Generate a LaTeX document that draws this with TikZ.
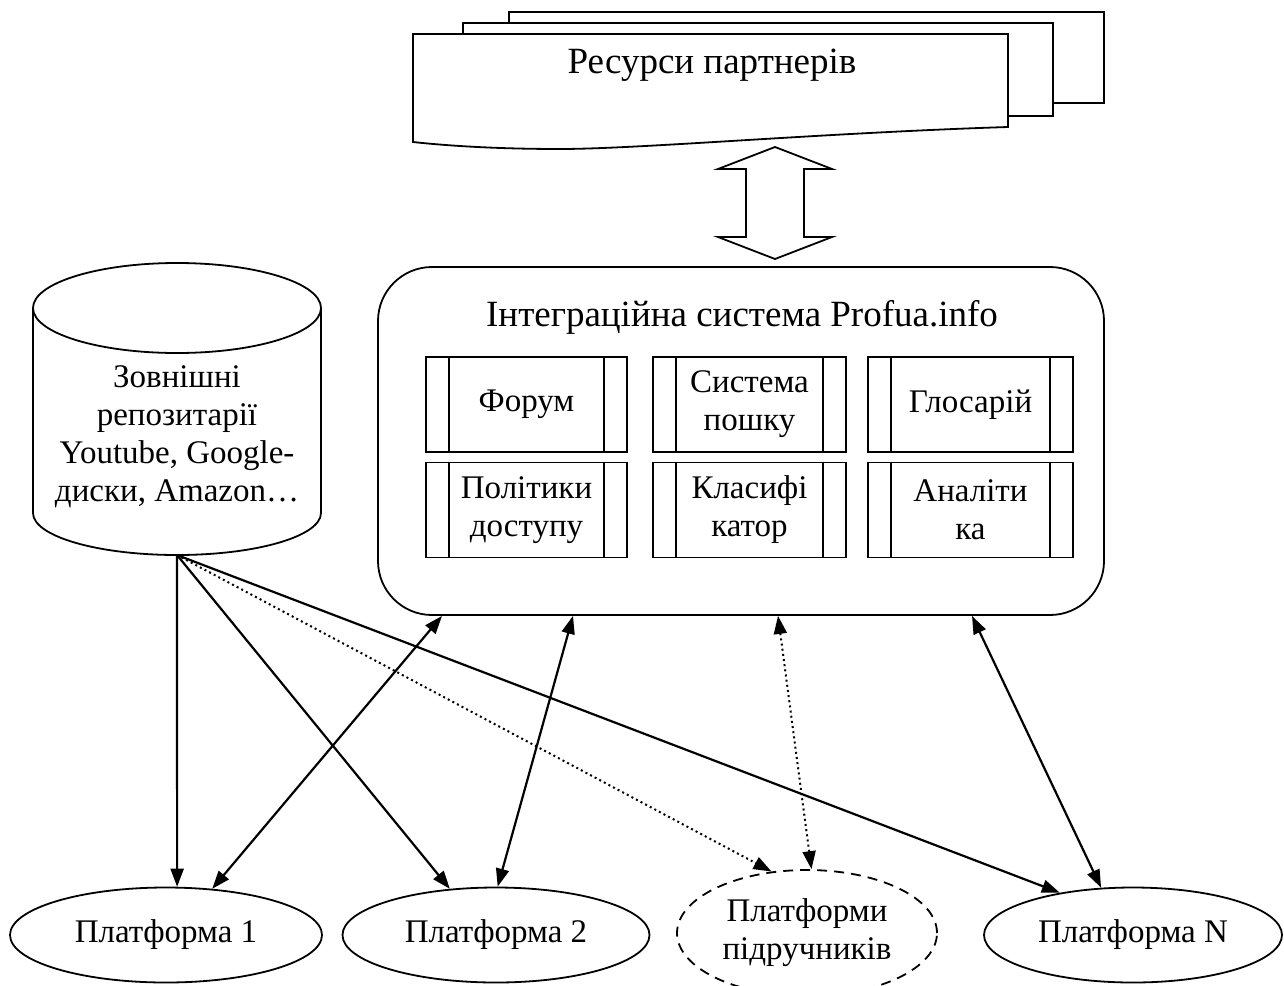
\documentclass[tikz,border=0pt]{standalone}
\usepackage{fontspec}
\setmainfont{Liberation Serif}
\usetikzlibrary{arrows.meta,positioning,shapes.geometric}

\begin{document}
\begin{tikzpicture}[x=1pt,y=-1pt,
    every node/.style={font=\fontsize{33}{38}\selectfont},
    box/.style={draw,line width=1.8pt,minimum height=95pt,inner sep=0pt,align=center},
    plat/.style={draw,ellipse,line width=1.8pt,minimum height=95pt,inner sep=0pt,align=center},
    sheet/.style={draw,line width=1.8pt,fill=white},
    link/.style={line width=2.2pt,-{Triangle[length=18pt,width=13pt]}},
    both/.style={link,{Triangle[length=18pt,width=13pt]}-{Triangle[length=18pt,width=13pt]}},
    dots/.style={line width=2pt,dash pattern=on 2pt off 3.2pt}]

\useasboundingbox (0,0) rectangle (1284,985);
\clip (0,0) rectangle (1284,985);

% partner resources
\draw[sheet] (509,12) rectangle (1104,103);
\draw[sheet] (463,23) rectangle (1053,116);
\draw[sheet] (413,34) -- (1008,34) -- (1008,127)
    .. controls (820,133) and (640,149) .. (560,149)
    .. controls (490,149) and (440,145) .. (413,142) -- cycle;
\node[font=\fontsize{37}{44}\selectfont] (res) at (712,65) {Ресурси партнерів};

% block arrow
\draw[line width=1.8pt] (775,147) -- (832,169) -- (804,169) -- (804,237) -- (832,237)
    -- (775,259) -- (718,237) -- (746,237) -- (746,169) -- (718,169) -- cycle;

% integration system
\node[draw,line width=1.8pt,rounded corners=54pt,minimum width=726pt,minimum height=348pt] (sys) at (741,441) {};
\node[font=\fontsize{37}{44}\selectfont] (title) at (742,317) {Інтеграційна система Profua.info};

\node[box,minimum width=201pt] (forum) at (526.5,404.5) {Форум};
\node[box,minimum width=193pt] (search) at (749.5,404.5) {Система\\пошку};
\node[box,minimum width=205pt] (gloss) at (970.5,404.5) {Глосарій};
\node[box,minimum width=201pt] (policy) at (526.5,510) {Політики\\доступу};
\node[box,minimum width=193pt] (classif) at (749.5,510) {Класифі\\катор};
\node[box,minimum width=205pt] (analyt) at (970.5,510) {Аналіти\\ка};
\foreach \b in {forum,search,gloss,policy,classif,analyt}
    \draw[line width=1.8pt] ([xshift=24pt]\b.north west) -- ([xshift=24pt]\b.south west)
        ([xshift=-24pt]\b.north east) -- ([xshift=-24pt]\b.south east);

% external repositories (cylinder)
\draw[line width=1.8pt] (177,308) ellipse [x radius=144pt,y radius=45pt];
\draw[line width=1.8pt] (33,308) -- (33,513) arc[start angle=180,end angle=360,x radius=144pt,y radius=42pt] -- (321,308);
\coordinate (db) at (177,555);
\node[align=center] (repo) at (177,437) {Зовнішні\\репозитарії\\Youtube, Google-\\диски, Amazon…};

% platforms
\node[plat,minimum width=312pt] (p1) at (166,935) {Платформа 1};
\node[plat,minimum width=307pt] (p2) at (496,935) {Платформа 2};
\node[plat,dash pattern=on 10pt off 7pt,minimum width=260pt,minimum height=126pt] (pt) at (807,933) {Платформи\\підручників};
\node[plat,minimum width=298pt] (pN) at (1133,935) {Платформа N};

% connectors
\draw[link] (db) -- (p1.77);
\draw[link] (db) -- (p2.135);
\draw[link,dots] (db) -- (pt.120);
\draw[link] (db) -- (pN.150);
\draw[both] ([xshift=-299pt]sys.south) -- (p1.45);
\draw[both] ([xshift=-168pt]sys.south) -- (p2.88);
\draw[both,dots] ([xshift=37pt]sys.south) -- (pt.86);
\draw[both] ([xshift=231pt]sys.south) -- (pN.124);
\end{tikzpicture}
\end{document}
